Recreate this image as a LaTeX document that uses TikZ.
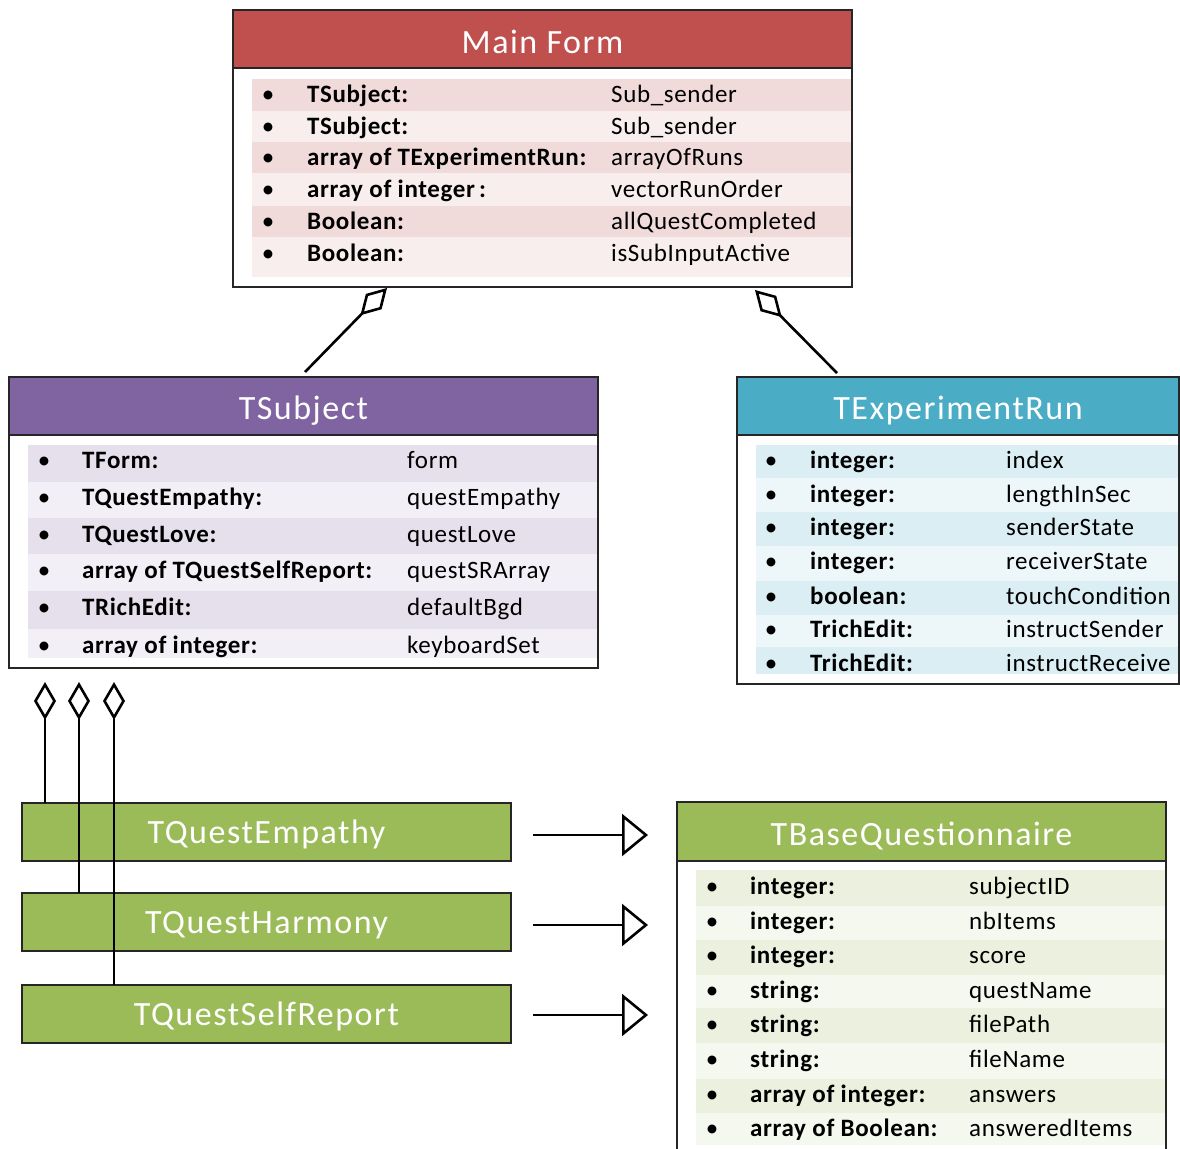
\documentclass[tikz,border=0pt]{standalone}
\usepackage{fontspec}
\setmainfont{Carlito}
\usetikzlibrary{arrows.meta}
\definecolor{mfred}{HTML}{C0504D}
\definecolor{mfdark}{HTML}{F0DADA}
\definecolor{mflight}{HTML}{F8EEEE}
\definecolor{tspurple}{HTML}{8064A2}
\definecolor{tsdark}{HTML}{E5E0EC}
\definecolor{tslight}{HTML}{F2EFF6}
\definecolor{erblue}{HTML}{4BACC6}
\definecolor{erdark}{HTML}{DAEEF3}
\definecolor{erlight}{HTML}{EDF6F9}
\definecolor{qgreen}{HTML}{9BBB59}
\definecolor{qdark}{HTML}{EBF1DE}
\definecolor{qlight}{HTML}{F5F8EF}
\definecolor{edge}{HTML}{262626}
\newfontfamily\rowfont[LetterSpace=2.6]{Carlito}
\newfontfamily\headfont[LetterSpace=4.5]{Carlito}
\tikzset{
 boxborder/.style={draw=edge, line width=2pt, fill=none, inner sep=0pt, outer sep=0pt, anchor=north west},
 headline/.style={draw=edge, line width=2pt},
 headtxt/.style={text=white, font=\headfont\fontsize{34}{40}\selectfont, inner sep=0pt, text height=22pt, text depth=0pt},
 bul/.style={anchor=base, font=\fontsize{25}{30}\selectfont, inner sep=0pt},
 typ/.style={anchor=base west, font=\rowfont\fontsize{25}{30}\selectfont\bfseries, inner sep=0pt},
 val/.style={anchor=base west, font=\rowfont\fontsize{25}{30}\selectfont, inner sep=0pt},
 qbox/.style={draw=edge, line width=2pt, fill=qgreen, text=white, inner sep=0pt, outer sep=0pt, anchor=north west, minimum width=489pt, minimum height=58pt, text height=22pt, text depth=0pt, font=\headfont\fontsize{34}{40}\selectfont},
 agg/.style={draw=black, line width=2.6pt, -{Diamond[length=38pt,width=22pt,fill=white,line width=2.6pt]}},
 gen/.style={draw=black, line width=2.6pt, -{Triangle[length=26pt,width=42pt,fill=white,line width=2.6pt]}},
}
\begin{document}
\begin{tikzpicture}[x=1pt,y=-1pt]
\useasboundingbox (0,0) rectangle (1180,1148);
\clip (0,0) rectangle (1180,1148);
\fill[white] (0,0) rectangle (1180,1148);

% ---------------- Main Form ----------------
\fill[mfred] (233,10) rectangle (852,68);
\foreach \ya/\yb/\c in {79/111/mfdark,111/142/mflight,142/173/mfdark,173/206/mflight,206/237/mfdark,237/277/mflight}
  \fill[\c] (252,\ya) rectangle (852,\yb);
\draw[headline] (233,68) -- (852,68);
\node[boxborder, minimum width=619pt, minimum height=277pt] (mf) at (233,10) {};
\node[headtxt] (mf-h) at (542.5,42) {Main Form};
\foreach \y/\t/\v [count=\i] in {94/TSubject:/Sub\_sender,126/TSubject:/Sub\_sender,157/array of TExperimentRun:/arrayOfRuns,189/array of integer\,:/vectorRunOrder,221/Boolean:/allQuestCompleted,253/Boolean:/isSubInputActive}{
  \node[bul] (mf-b\i) at (268,\y+8) {•};
  \node[typ] (mf-t\i) at (307,\y+8) {\t};
  \node[val] (mf-v\i) at (611,\y+8) {\v};
}

% ---------------- TSubject ----------------
\fill[tspurple] (9,377) rectangle (598,435);
\foreach \ya/\yb/\c in {445/482/tsdark,482/518/tslight,518/554/tsdark,554/591/tslight,591/629/tsdark,629/658/tslight}
  \fill[\c] (28,\ya) rectangle (598,\yb);
\draw[headline] (9,435) -- (598,435);
\node[boxborder, minimum width=589pt, minimum height=291pt] (ts) at (9,377) {};
\node[headtxt] (ts-h) at (303.5,408) {TSubject};
\foreach \y/\t/\v [count=\i] in {460/TForm:/form,497/TQuestEmpathy:/questEmpathy,534/TQuestLove:/questLove,570/array of TQuestSelfReport:/questSRArray,607/TRichEdit:/defaultBgd,645/array of integer:/keyboardSet}{
  \node[bul] (ts-b\i) at (44,\y+8) {•};
  \node[typ] (ts-t\i) at (82,\y+8) {\t};
  \node[val] (ts-v\i) at (407,\y+8) {\v};
}

% ---------------- TExperimentRun ----------------
\fill[erblue] (737,377) rectangle (1179,435);
\foreach \ya/\yb/\c in {445/478/erdark,478/512/erlight,512/546/erdark,546/581/erlight,581/615/erdark,615/647/erlight,647/674/erdark}
  \fill[\c] (756,\ya) rectangle (1178,\yb);
\draw[headline] (737,435) -- (1179,435);
\begin{scope}
\clip (737,377) rectangle (1177,684);
\foreach \y/\t/\v [count=\i] in {460/integer:/index,494/integer:/lengthInSec,527/integer:/senderState,561/integer:/receiverState,596/boolean:/touchCondition,629/TrichEdit:/instructSender,663/TrichEdit:/instructReceive}{
  \node[bul] (er-b\i) at (771,\y+8) {•};
  \node[typ] (er-t\i) at (810,\y+8) {\t};
  \node[val] (er-v\i) at (1006,\y+8) {\v};
}
\end{scope}
\node[boxborder, minimum width=442pt, minimum height=307pt] (er) at (737,377) {};
\node[headtxt] (er-h) at (958,408) {TExperimentRun};

% ---------------- TBaseQuestionnaire ----------------
\fill[qgreen] (677,802) rectangle (1166,861);
\foreach \ya/\yb/\c in {870/906/qdark,906/940/qlight,940/975/qdark,975/1008/qlight,1008/1043/qdark,1043/1079/qlight,1079/1113/qdark,1113/1145/qlight}
  \fill[\c] (696,\ya) rectangle (1165,\yb);
\draw[headline] (677,861) -- (1166,861);
\node[boxborder, minimum width=489pt, minimum height=370pt] (bq) at (677,802) {};
\node[headtxt] (bq-h) at (921.5,834) {TBaseQuestionnaire};
\foreach \y/\t/\v [count=\i] in {886/integer:/subjectID,921/integer:/nbItems,955/integer:/score,990/string:/questName,1024/string:/filePath,1059/string:/fileName,1094/array of integer:/answers,1128/array of Boolean:/answeredItems}{
  \node[bul] (bq-b\i) at (712,\y+8) {•};
  \node[typ] (bq-t\i) at (750,\y+8) {\t};
  \node[val] (bq-v\i) at (969,\y+8) {\v};
}

% ---------------- Questionnaire classes ----------------
\node[qbox] (qe) at (22,803) {TQuestEmpathy};
\node[qbox] (qh) at (22,893) {TQuestHarmony};
\node[qbox] (qs) at (22,985) {TQuestSelfReport};

% ---------------- Connectors ----------------
\coordinate (mfL) at (387,288);
\coordinate (tsT) at (305,372);
\coordinate (mfR) at (755,290);
\coordinate (erT) at (837,373);
\draw[agg] (tsT) -- (mfL);
\draw[agg] (erT) -- (mfR);

\coordinate (d1) at (45,682);
\coordinate (d2) at (79,682);
\coordinate (d3) at (114,682);
\draw[agg] (qe.north -| d1) -- (d1);
\draw[agg] (qh.north -| d2) -- (d2);
\draw[agg] (qs.north -| d3) -- (d3);

\coordinate (g1) at (533,835);
\coordinate (g2) at (533,925);
\coordinate (g3) at (533,1015);
\coordinate (h1) at (648,835);
\coordinate (h2) at (648,925);
\coordinate (h3) at (648,1015);
\draw[gen] (g1) -- (h1);
\draw[gen] (g2) -- (h2);
\draw[gen] (g3) -- (h3);
\end{tikzpicture}
\end{document}
